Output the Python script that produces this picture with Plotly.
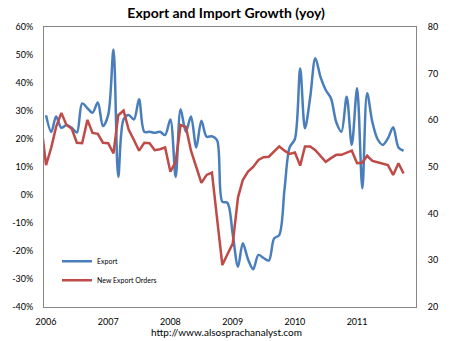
import plotly.graph_objects as go
import pandas as pd

# Monthly data
export_start = "2006-01-01"
export_yoy = [28.5, 22.5, 28, 24, 25, 24, 22.3, 32.7, 31, 29.4,
              33, 24.6, 28.6, 52, 6.5, 27, 28.6, 27, 34.2, 22.6,
              22.6, 22.2, 22.6, 21.4, 27, 6.5, 30.6, 22.6, 28, 17,
              26.5, 20.8, 21, 19.6, -2.4, -2.8, -14, -25.6, -17.2, -23,
              -26.5, -21.4, -22.5, -23.4, -15.5, -14.3, 2, 17, 20, 45.2,
              23.8, 35, 48.8, 42, 37.5, 34.5, 26, 22.6, 35.1, 17.9,
              38.1, 2.4, 36.3, 26, 20, 17.9, 20.2, 24.2, 17, 15.8]

orders_start = "2005-12-01"
new_export_orders = [60,
                     50.4, 54.2, 58.6, 61.6, 59, 58.2, 55.2, 55.1, 60.1, 57.3,
                     57.1, 55.2, 55.1, 52.9, 61.1, 62.1, 58, 55.8, 53.5, 55.2,
                     55.1, 53.6, 53.8, 54.2, 49, 51.1, 59, 58.6, 53.5, 50,
                     46.6, 48.3, 48.8, 39, 29, 31.3, 33.6, 43.5, 47.2, 49,
                     50, 51.5, 52.1, 52.2, 53.3, 54.4, 53.5, 52.8, 53.1, 50.3,
                     54.4, 54.4, 53.6, 52.2, 51.1, 51.9, 52.6, 52.6, 53.1, 53.5,
                     50.8, 50.9, 52.4, 51.3, 51, 50.7, 50.4, 48.3, 50.8, 48.6]

year_ticks = ["2006", "2007", "2008", "2009", "2010", "2011"]
left_ticks = [-0.4, -0.3, -0.2, -0.1, 0, 0.1, 0.2, 0.3, 0.4, 0.5, 0.6]
left_labels = ["-40%", "-30%", "-20%", "-10%", "0%", "10%", "20%", "30%", "40%", "50%", "60%"]
right_ticks = [20, 30, 40, 50, 60, 70, 80]

x_exp = pd.date_range(export_start, periods=len(export_yoy), freq="MS")
x_ord = pd.date_range(orders_start, periods=len(new_export_orders), freq="MS")

FONT = "Lato"
BLUE = "#4A7EBB"
RED = "#BE4B48"

fig = go.Figure()
fig.add_trace(go.Scatter(
    x=x_exp, y=[v / 100 for v in export_yoy], name="Export", mode="lines",
    line=dict(color=BLUE, width=2.5, shape="spline", smoothing=0.9),
))
fig.add_trace(go.Scatter(
    x=x_ord, y=new_export_orders, name="New Export Orders", mode="lines",
    line=dict(color=RED, width=2.5), yaxis="y2",
))

fig.update_layout(
    width=450, height=341,
    margin=dict(l=39, r=29, t=27, b=34),
    paper_bgcolor="white", plot_bgcolor="white",
    font=dict(family=FONT, size=9, color="#222222"),
    title=dict(text="<b>Export and Import Growth (yoy)</b>", x=(226 - 39) / 382,
               xref="paper", xanchor="center",
               y=1 - 13 / 341, yanchor="middle",
               font=dict(family=FONT, size=14, color="#000000")),
    xaxis=dict(
        type="date",
        range=["2005-12-20", "2011-12-13"],
        tickvals=[f"{y}-01-01" for y in year_ticks], ticktext=year_ticks,
        showgrid=False, zeroline=False, showline=True, linecolor="#868686",
        linewidth=1, mirror=True, ticks="outside", ticklen=6, tickcolor="rgba(0,0,0,0)",
        tickfont=dict(size=9, color="#000000"),
    ),
    yaxis=dict(
        range=[-0.4, 0.6], tickvals=left_ticks, ticktext=left_labels,
        showgrid=False, zeroline=False, showline=True, linecolor="#868686",
        linewidth=1, mirror=True, ticks="outside", ticklen=8, tickcolor="rgba(0,0,0,0)",
        tickfont=dict(size=9, color="#000000"),
    ),
    yaxis2=dict(
        range=[20, 80], tickvals=right_ticks, overlaying="y", side="right",
        showgrid=False, zeroline=False, showline=False,
        ticks="outside", ticklen=9, tickcolor="rgba(0,0,0,0)",
        tickfont=dict(size=9, color="#000000"),
    ),
    legend=dict(
        x=0.035, y=0.215, xanchor="left", yanchor="top",
        bgcolor="rgba(0,0,0,0)", font=dict(size=7, color="#000000"),
        itemwidth=30, tracegroupgap=0,
    ),
    showlegend=True,
    annotations=[dict(
        text="http://www.alsosprachanalyst.com",
        x=(226 - 39) / 382, xref="paper",
        y=-(332 - 307) / 280, yref="paper", yanchor="middle",
        showarrow=False,
        font=dict(family=FONT, size=10, color="#000000"),
    )],
)

fig.write_html("out.html")
